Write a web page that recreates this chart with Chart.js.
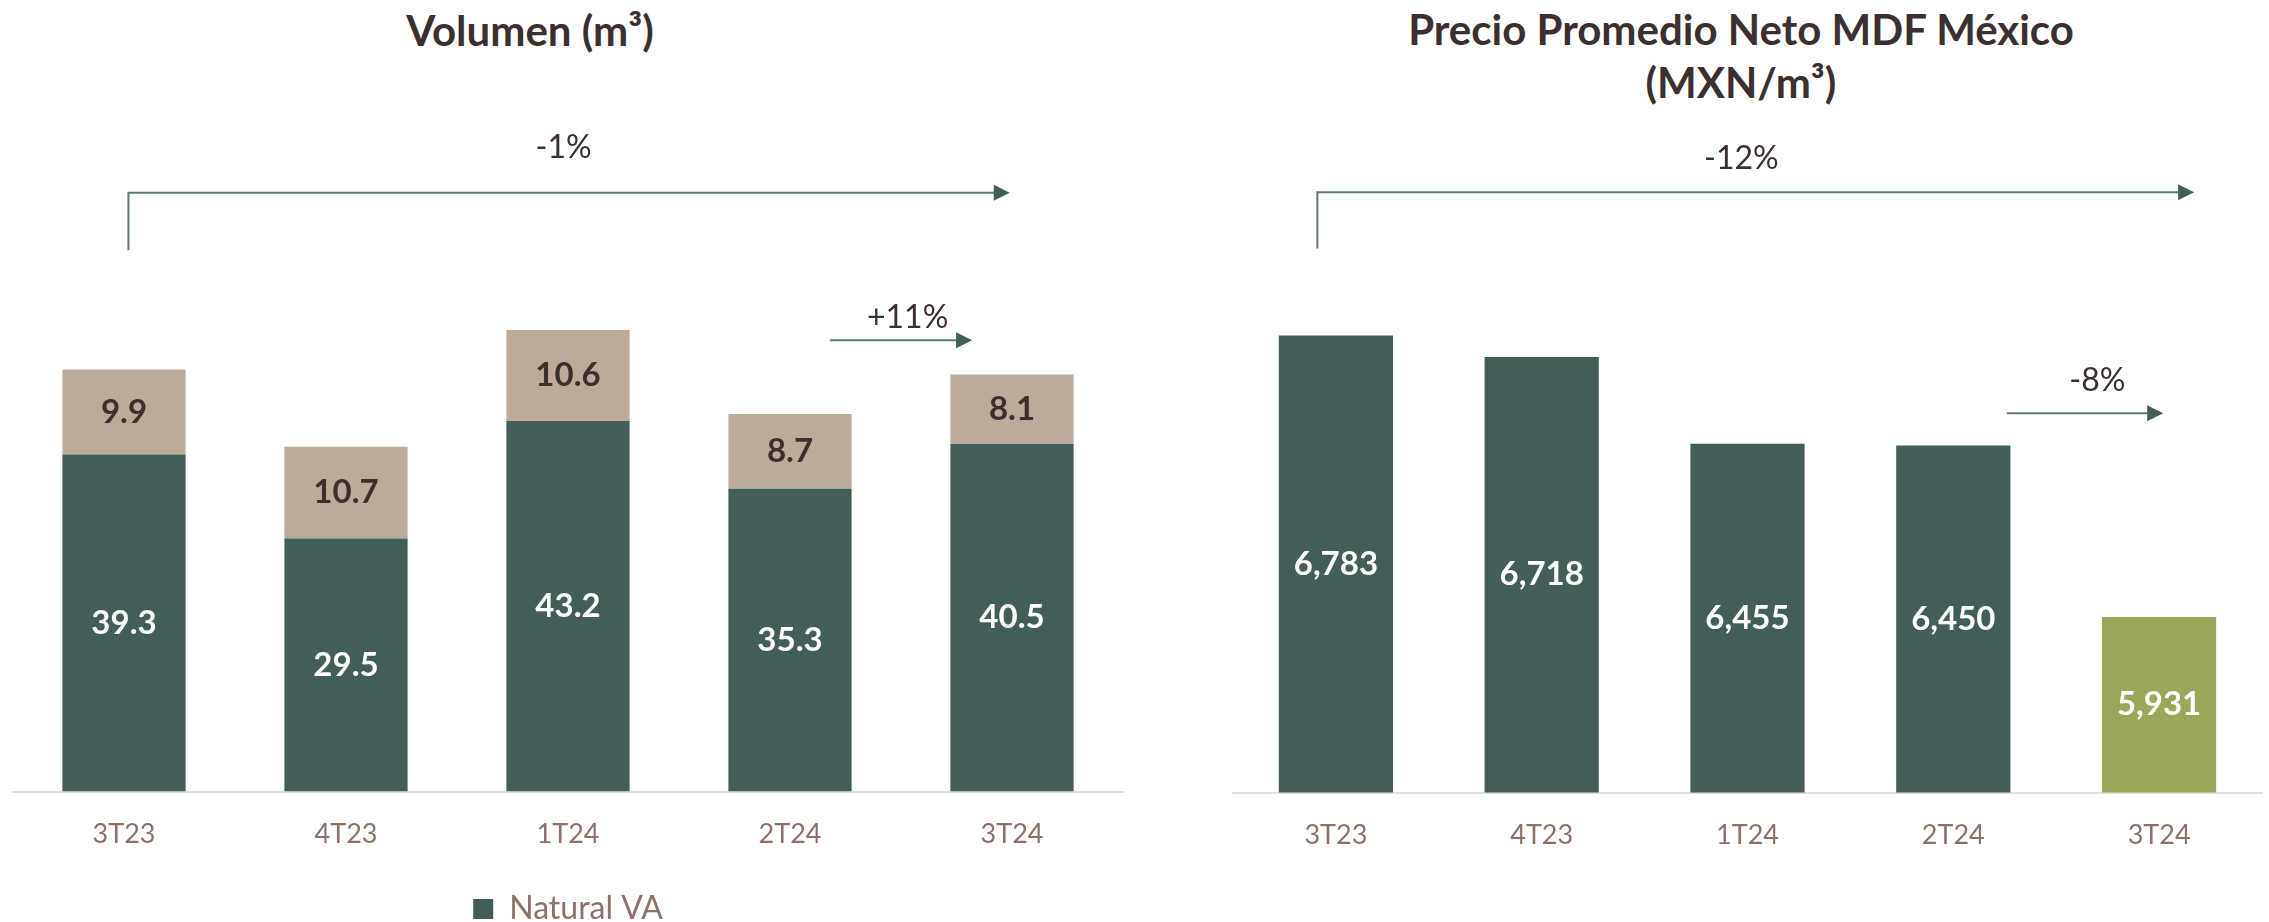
<!DOCTYPE html>
<html lang="es">
<head>
<meta charset="utf-8">
<title>Volumen y Precio Promedio Neto MDF México</title>
<script src="https://cdn.jsdelivr.net/npm/chart.js@4.4.1/dist/chart.umd.min.js"></script>
<style>
  html, body { margin: 0; padding: 0; background: #fff; overflow: hidden; }
  body { width: 2269px; height: 922px; position: relative; font-family: Lato, sans-serif; }
  .titulo { position: absolute; text-align: center; font-weight: bold; font-size: 42px; line-height: 53px; color: #3b2f2f; white-space: nowrap; }
  .grafica { position: absolute; top: 0; height: 960px; }
</style>
</head>
<body>
<div class="titulo" style="left:280px; top:4px; width:500px;">Volumen (m³)</div>
<div class="titulo" style="left:1341px; top:3px; width:800px;">Precio Promedio Neto MDF México<br>(MXN/m³)</div>
<div class="grafica" style="left:0; width:1134px;"><canvas id="volumen"></canvas></div>
<div class="grafica" style="left:1134px; width:1135px;"><canvas id="precio"></canvas></div>

<script>
// Datos
const trimestres = ['3T23', '4T23', '1T24', '2T24', '3T24'];
const volNatural = [39.3, 29.5, 43.2, 35.3, 40.5];
const volOtro = [9.9, 10.7, 10.6, 8.7, 8.1];
const precioMdf = [6783, 6718, 6455, 6450, 5931];

// Colores
const VERDE = '#435e59';
const BEIGE = '#bbab98';
const OLIVO = '#9aa658';
const TEXTO = '#3b2f2f';
const EJE = '#8c7169';

Chart.defaults.font.family = 'Lato';
Chart.defaults.animation = false;

// Etiquetas de valor dentro de cada barra
function etiquetasPlugin(formato) {
  return {
    id: 'etiquetas',
    afterDatasetsDraw(chart) {
      const ctx = chart.ctx;
      const abajo = chart.chartArea.bottom;
      ctx.save();
      ctx.font = 'bold 33px Lato';
      ctx.textAlign = 'center';
      ctx.textBaseline = 'middle';
      chart.data.datasets.forEach((ds, i) => {
        chart.getDatasetMeta(i).data.forEach((bar, j) => {
          // la base puede quedar fuera del área cuando el eje no empieza en cero
          const base = Math.min(bar.base, abajo);
          ctx.fillStyle = ds.colorEtiqueta;
          ctx.fillText(formato(ds.data[j]), bar.x, (bar.y + base) / 2);
        });
      });
      ctx.restore();
    }
  };
}

// Flechas de variación (posiciones en unidades de las escalas)
function flechasPlugin(flechas) {
  return {
    id: 'flechas',
    afterDraw(chart) {
      const {ctx, scales: {x, y}} = chart;
      flechas.forEach(f => {
        const x0 = x.getPixelForValue(f.desde);
        const x1 = x.getPixelForValue(f.hasta);
        const yl = y.getPixelForValue(f.y);
        ctx.save();
        ctx.strokeStyle = '#5f7974';
        ctx.lineWidth = 2;
        ctx.beginPath();
        if (f.bajada !== undefined) {
          ctx.moveTo(x0, y.getPixelForValue(f.bajada));
          ctx.lineTo(x0, yl);
        } else {
          ctx.moveTo(x0, yl);
        }
        ctx.lineTo(x1 - 14, yl);
        ctx.stroke();
        ctx.fillStyle = VERDE;
        ctx.beginPath();
        ctx.moveTo(x1, yl);
        ctx.lineTo(x1 - 16, yl - 8);
        ctx.lineTo(x1 - 16, yl + 8);
        ctx.closePath();
        ctx.fill();
        ctx.font = '32px Lato';
        ctx.fillStyle = TEXTO;
        ctx.textAlign = 'center';
        ctx.textBaseline = 'middle';
        ctx.fillText(f.texto, x.getPixelForValue(f.textoX), y.getPixelForValue(f.textoY));
        ctx.restore();
      });
    }
  };
}

const ejeX = {
  grid: { display: false, drawTicks: false },
  border: { display: true, color: '#e3dedb', width: 2 },
  ticks: { color: EJE, font: { size: 27 }, padding: 26 }
};

// Volumen
new Chart(document.getElementById('volumen'), {
  type: 'bar',
  data: {
    labels: trimestres,
    datasets: [{
      label: 'Natural VA',
      data: volNatural,
      backgroundColor: VERDE,
      colorEtiqueta: '#ffffff',
      borderWidth: 0,
      barPercentage: 0.555,
      categoryPercentage: 1
    }, {
      label: 'Otros',
      data: volOtro,
      backgroundColor: BEIGE,
      colorEtiqueta: TEXTO,
      borderWidth: 0,
      barPercentage: 0.555,
      categoryPercentage: 1
    }]
  },
  options: {
    responsive: true,
    maintainAspectRatio: false,
    layout: { padding: { top: 191, left: 13, right: 11, bottom: 25 } },
    scales: {
      x: Object.assign({ stacked: true }, ejeX),
      y: { stacked: true, display: false, min: 0, max: 70 }
    },
    plugins: {
      tooltip: { enabled: false },
      legend: {
        position: 'bottom',
        labels: {
          boxWidth: 20, boxHeight: 20, padding: 17,
          color: EJE, font: { size: 32 },
          filter: item => item.datasetIndex === 0
        }
      }
    }
  },
  plugins: [
    etiquetasPlugin(v => v.toFixed(1)),
    flechasPlugin([
      { desde: 0.02, hasta: 3.99, y: 69.8, bajada: 63.1, texto: '-1%', textoX: 1.98, textoY: 75 },
      { desde: 3.18, hasta: 3.82, y: 52.6, texto: '+11%', textoX: 3.53, textoY: 55.2 }
    ])
  ]
});

// Precio promedio
new Chart(document.getElementById('precio'), {
  type: 'bar',
  data: {
    labels: trimestres,
    datasets: [{
      label: 'Precio',
      data: precioMdf,
      backgroundColor: precioMdf.map((v, i) => i === precioMdf.length - 1 ? OLIVO : VERDE),
      colorEtiqueta: '#ffffff',
      borderWidth: 0,
      barPercentage: 0.555,
      categoryPercentage: 1
    }]
  },
  options: {
    responsive: true,
    maintainAspectRatio: false,
    layout: { padding: { top: 191, left: 99, right: 7, bottom: 83 } },
    scales: {
      x: ejeX,
      y: { display: false, min: 5400, max: 7220 }
    },
    plugins: {
      tooltip: { enabled: false },
      legend: { display: false }
    }
  },
  plugins: [
    etiquetasPlugin(v => v.toLocaleString('en-US')),
    flechasPlugin([
      { desde: -0.09, hasta: 4.17, y: 7216, bajada: 7046, texto: '-12%', textoX: 1.97, textoY: 7318 },
      { desde: 3.26, hasta: 4.02, y: 6548, texto: '-8%', textoX: 3.7, textoY: 6645 }
    ])
  ]
});
</script>
</body>
</html>
